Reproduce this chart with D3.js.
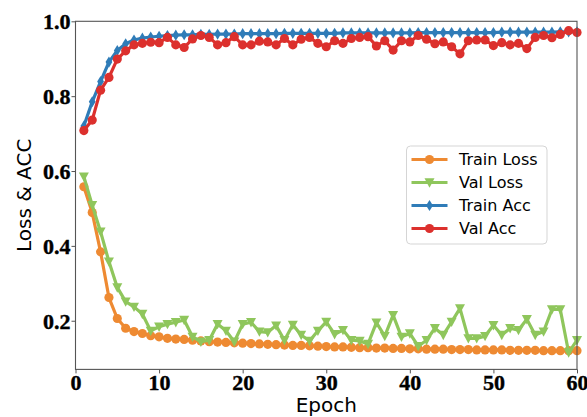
<!DOCTYPE html>
<html>
<head>
<meta charset="utf-8">
<script src="https://cdn.jsdelivr.net/npm/d3@7"></script>
<style>
body { margin: 0; background: #fff; }
</style>
</head>
<body>
<div id="chart"></div>
<script>
// data
const epochs = [1,2,3,4,5,6,7,8,9,10,11,12,13,14,15,16,17,18,19,20,
  21,22,23,24,25,26,27,28,29,30,31,32,33,34,35,36,37,38,39,40,
  41,42,43,44,45,46,47,48,49,50,51,52,53,54,55,56,57,58,59,60];

const trainLoss = [0.558,0.489,0.384,0.262,0.206,0.180,0.171,0.166,0.160,0.157,
  0.153,0.151,0.150,0.148,0.146,0.144,0.143,0.142,0.141,0.140,
  0.139,0.138,0.137,0.136,0.135,0.134,0.134,0.133,0.132,0.131,
  0.130,0.130,0.129,0.128,0.128,0.127,0.127,0.126,0.126,0.125,
  0.125,0.124,0.124,0.124,0.123,0.123,0.123,0.122,0.122,0.122,
  0.122,0.121,0.121,0.121,0.121,0.120,0.120,0.120,0.120,0.120];

const valLoss = [0.585,0.509,0.438,0.358,0.289,0.251,0.237,0.218,0.173,0.184,
  0.191,0.196,0.202,0.157,0.144,0.148,0.191,0.173,0.144,0.191,
  0.196,0.171,0.169,0.187,0.148,0.189,0.162,0.146,0.173,0.197,
  0.164,0.175,0.148,0.146,0.138,0.195,0.159,0.215,0.157,0.166,
  0.132,0.148,0.180,0.162,0.197,0.233,0.153,0.153,0.159,0.188,
  0.162,0.180,0.175,0.204,0.162,0.171,0.230,0.230,0.115,0.148];

const trainAcc = [0.720,0.785,0.839,0.891,0.922,0.940,0.950,0.955,0.958,0.960,
  0.962,0.963,0.964,0.964,0.965,0.965,0.966,0.966,0.966,0.967,
  0.967,0.967,0.967,0.967,0.968,0.968,0.968,0.968,0.968,0.968,
  0.968,0.969,0.969,0.969,0.969,0.969,0.969,0.969,0.969,0.969,
  0.970,0.970,0.970,0.970,0.970,0.970,0.970,0.970,0.970,0.970,
  0.971,0.971,0.971,0.971,0.971,0.971,0.971,0.972,0.972,0.972];

const valAcc = [0.708,0.736,0.816,0.850,0.899,0.921,0.937,0.941,0.944,0.943,
  0.957,0.937,0.930,0.953,0.962,0.957,0.937,0.943,0.959,0.937,
  0.937,0.947,0.945,0.937,0.954,0.937,0.952,0.957,0.941,0.932,
  0.948,0.941,0.954,0.957,0.959,0.934,0.948,0.923,0.948,0.945,
  0.962,0.952,0.940,0.945,0.932,0.913,0.948,0.950,0.950,0.935,
  0.943,0.937,0.941,0.927,0.957,0.962,0.956,0.965,0.975,0.970];

const seriesNames = ['Train Loss', 'Val Loss', 'Train Acc', 'Val Acc'];
const seriesColors = ['#ee8a32', '#8fc65c', '#2f7cb8', '#dc302d'];
const seriesMarkers = ['circle', 'triangleDown', 'thinDiamond', 'circle'];
const seriesValues = [trainLoss, valLoss, trainAcc, valAcc];

const xTicks = [0, 10, 20, 30, 40, 50, 60];
const yTicks = [0.2, 0.4, 0.6, 0.8, 1.0];

// size & margins
const width = 587, height = 417;
const plotLeft = 75.5, plotRight = 577, plotTop = 21.3, plotBottom = 369.4;

const svg = d3.select('#chart').append('svg')
  .attr('width', width)
  .attr('height', height);

const x = d3.scaleLinear().domain([0, 60]).range([plotLeft, plotRight]);
const y = d3.scaleLinear().domain([0.07, 1.0]).range([plotBottom, plotTop]);

// marker shapes
function markerPath(type) {
  if (type === 'triangleDown') return 'M-5,-4.2L5,-4.2L0,5.2Z';
  if (type === 'thinDiamond') return 'M0,-5.6L3.4,0L0,5.6L-3.4,0Z';
  return d3.symbol().type(d3.symbolCircle).size(66)();
}

// lines
const line = d3.line()
  .x(function(d, i){ return x(epochs[i]); })
  .y(function(d){ return y(d); });

seriesValues.forEach(function(vals, k){
  const g = svg.append('g');
  g.append('path')
    .datum(vals)
    .attr('d', line)
    .attr('fill', 'none')
    .attr('stroke', seriesColors[k])
    .attr('stroke-width', 3.2)
    .attr('stroke-linejoin', 'round');
  g.selectAll('.m')
    .data(vals)
    .enter()
    .append('path')
    .attr('class', 'm')
    .attr('d', markerPath(seriesMarkers[k]))
    .attr('transform', function(d, i){ return 'translate(' + x(epochs[i]) + ',' + y(d) + ')'; })
    .attr('fill', seriesColors[k]);
});

// frame
svg.append('rect')
  .attr('x', plotLeft).attr('y', plotTop)
  .attr('width', plotRight - plotLeft).attr('height', plotBottom - plotTop)
  .attr('fill', 'none')
  .attr('stroke', '#555')
  .attr('stroke-width', 1.1);

// axes
const xAxis = svg.append('g')
  .attr('transform', 'translate(0,' + plotBottom + ')')
  .call(d3.axisBottom(x).tickValues(xTicks).tickSize(4).tickPadding(2).tickFormat(d3.format('d')));

const yAxis = svg.append('g')
  .attr('transform', 'translate(' + plotLeft + ',0)')
  .call(d3.axisLeft(y).tickValues(yTicks).tickSize(4).tickPadding(1).tickFormat(d3.format('.1f')));

[xAxis, yAxis].forEach(function(a){
  a.attr('font-family', 'Liberation Serif').attr('font-size', 22).attr('font-weight', 'bold');
  a.select('.domain').remove();
  a.selectAll('line').attr('stroke', '#555');
  a.selectAll('text')
    .attr('fill', '#000')
    .attr('stroke', '#000')
    .attr('stroke-width', 0.4)
    .style('font-family', 'Liberation Serif')
    .style('font-size', '22px')
    .style('font-weight', 'bold');
});
yAxis.selectAll('text').attr('dy', '0.34em');
xAxis.selectAll('text').attr('dy', '0.66em');

// axis titles
svg.append('text')
  .attr('x', (plotLeft + plotRight) / 2)
  .attr('y', 412)
  .attr('text-anchor', 'middle')
  .style('font-family', '"DejaVu Sans", sans-serif')
  .style('font-size', '20px')
  .text('Epoch');

svg.append('text')
  .attr('transform', 'translate(31,' + ((plotTop + plotBottom) / 2) + ') rotate(-90)')
  .attr('text-anchor', 'middle')
  .style('font-family', '"DejaVu Sans", sans-serif')
  .style('font-size', '20px')
  .text('Loss & ACC');

// legend
const legend = svg.append('g').attr('transform', 'translate(406.5,146)');
legend.append('rect')
  .attr('width', 140.5).attr('height', 98)
  .attr('rx', 4)
  .attr('fill', 'rgba(255,255,255,0.8)')
  .attr('stroke', '#d5d5d5');

seriesNames.forEach(function(name, k){
  const row = legend.append('g').attr('transform', 'translate(0,' + (13.5 + k * 23) + ')');
  row.append('line')
    .attr('x1', 5).attr('x2', 41)
    .attr('stroke', seriesColors[k])
    .attr('stroke-width', 3.2);
  row.append('path')
    .attr('d', markerPath(seriesMarkers[k]))
    .attr('transform', 'translate(23,0)')
    .attr('fill', seriesColors[k]);
  row.append('text')
    .attr('x', 52.5)
    .attr('dy', '0.35em')
    .style('font-family', '"DejaVu Sans", sans-serif')
    .style('font-size', '16px')
    .text(name);
});
</script>
</body>
</html>
